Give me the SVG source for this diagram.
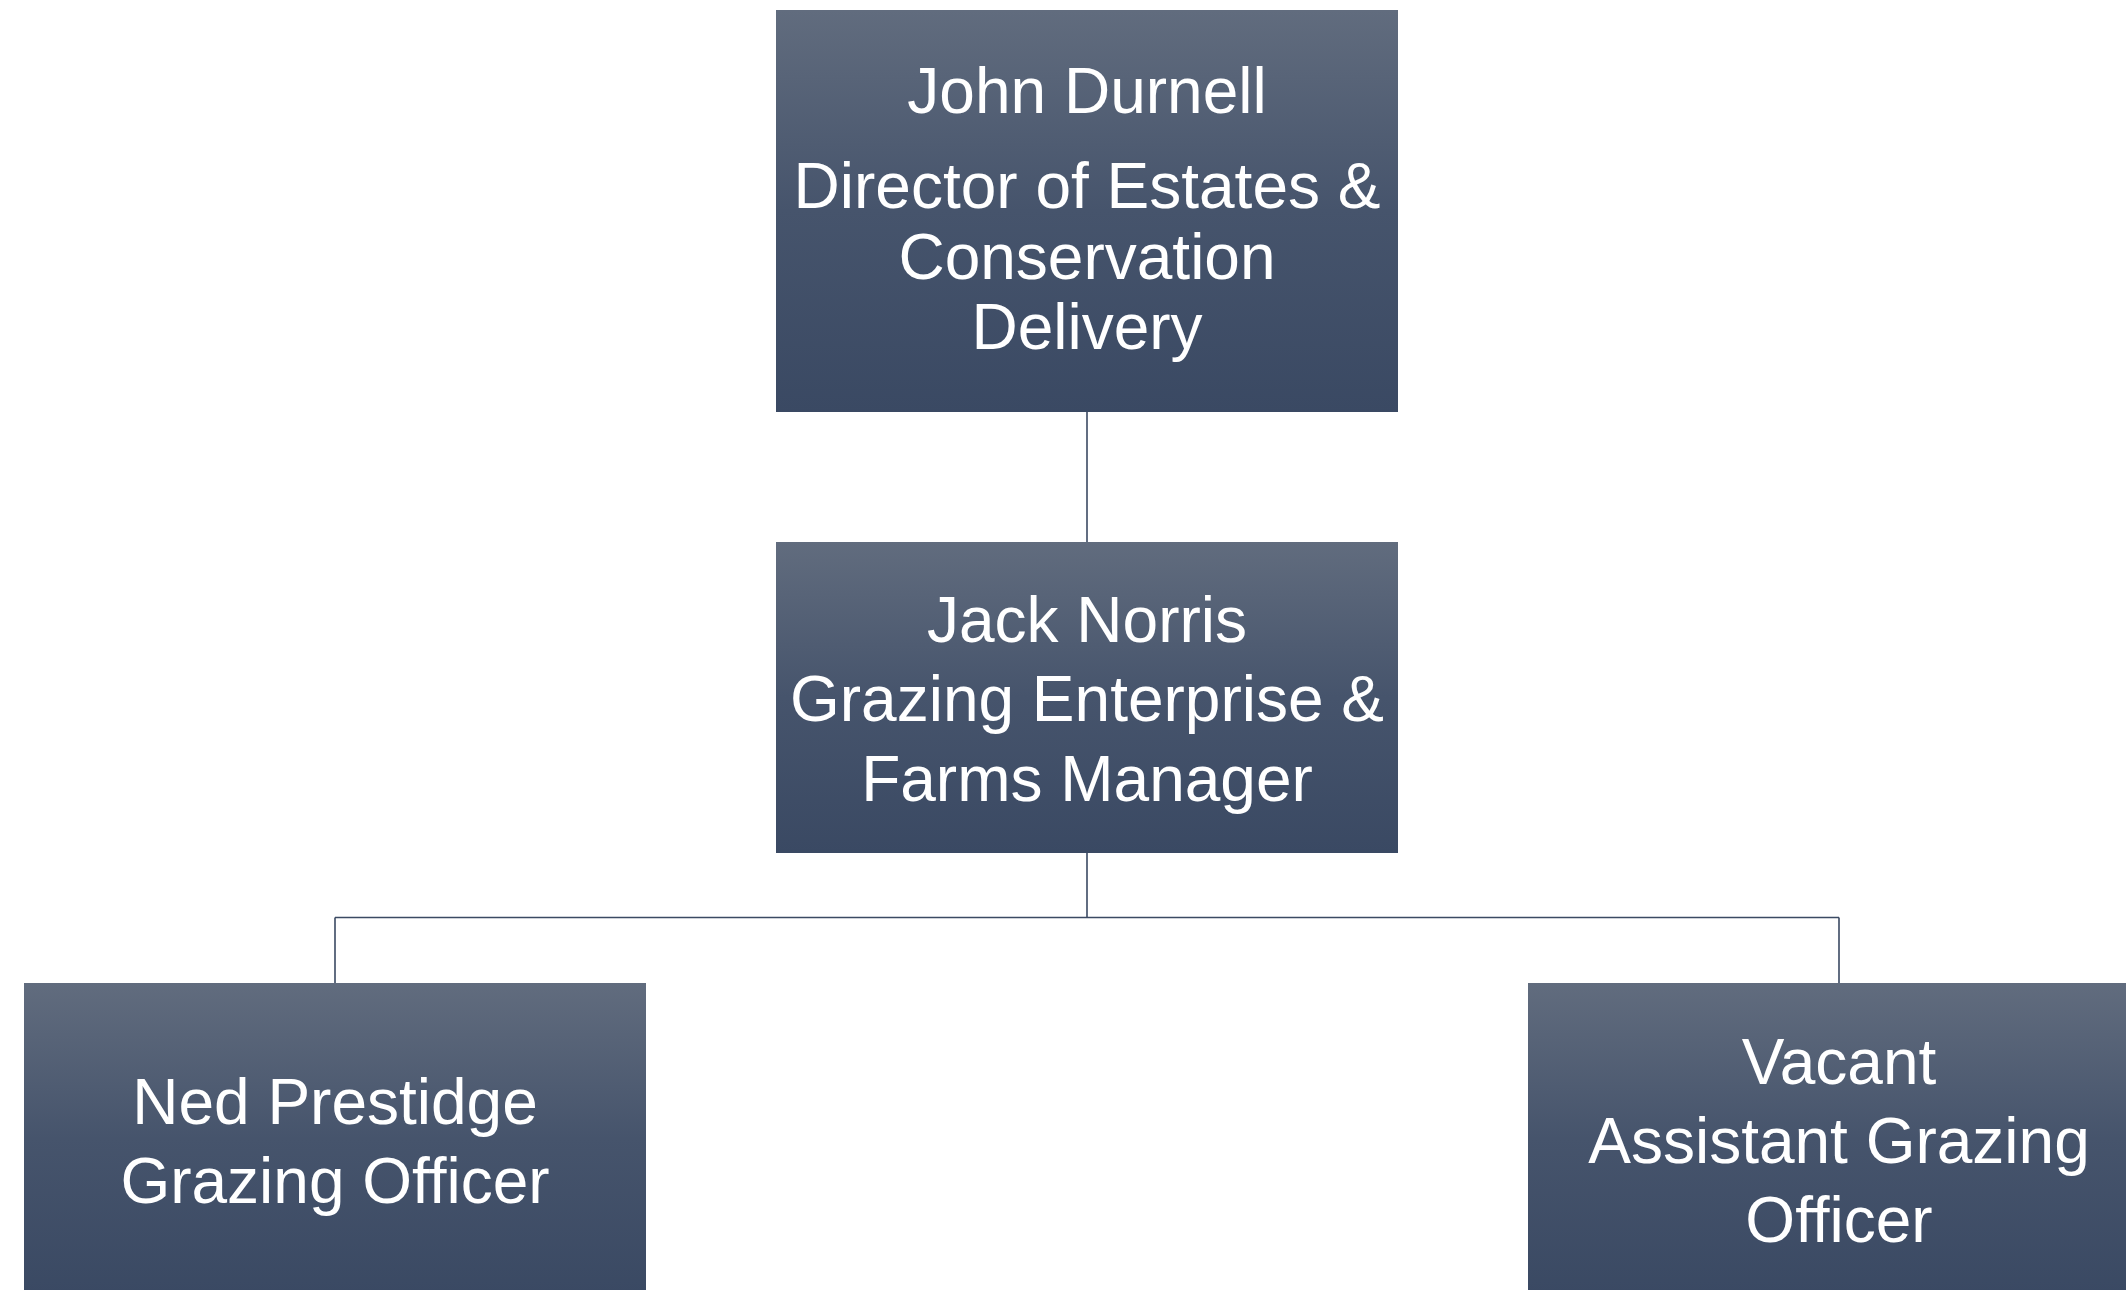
<svg xmlns="http://www.w3.org/2000/svg" width="2126" height="1290" viewBox="0 0 2126 1290">
<style>
.box{fill:url(#g)}
.t{font-family:"Liberation Sans",Arial,sans-serif;font-size:64px;fill:#ffffff;text-anchor:middle}
.c{stroke:#3b4a63;stroke-width:1.6;fill:none}
</style>
<defs>
<linearGradient id="g" x1="0" y1="0" x2="0" y2="1">
<stop offset="0" stop-color="#616c7e"/>
<stop offset="0.5" stop-color="#46546c"/>
<stop offset="1" stop-color="#3a4963"/>
</linearGradient>
</defs>
<rect width="2126" height="1290" fill="#ffffff"/>
<g id="connectors">
<path class="c" d="M1087 412 V542"/>
<path class="c" d="M1087 853 V917.5 M335 917.5 H1839 M335 917.5 V983 M1839 917.5 V983"/>
</g>
<g id="john-durnell">
<rect class="box" x="776" y="10" width="622" height="402"/>
<text class="t" x="1087" y="113">John Durnell</text>
<text class="t" x="1087" y="208">Director of Estates &amp;</text>
<text class="t" x="1087" y="279">Conservation</text>
<text class="t" x="1087" y="349">Delivery</text>
</g>
<g id="jack-norris">
<rect class="box" x="776" y="542" width="622" height="311"/>
<text class="t" x="1087" y="642">Jack Norris</text>
<text class="t" x="1087" y="721">Grazing Enterprise &amp;</text>
<text class="t" x="1087" y="801">Farms Manager</text>
</g>
<g id="ned-prestidge">
<rect class="box" x="24" y="983" width="622" height="311"/>
<text class="t" x="335" y="1124">Ned Prestidge</text>
<text class="t" x="335" y="1203">Grazing Officer</text>
</g>
<g id="vacant">
<rect class="box" x="1528" y="983" width="622" height="311"/>
<text class="t" x="1839" y="1084">Vacant</text>
<text class="t" x="1839" y="1163">Assistant Grazing</text>
<text class="t" x="1839" y="1242">Officer</text>
</g>
</svg>
